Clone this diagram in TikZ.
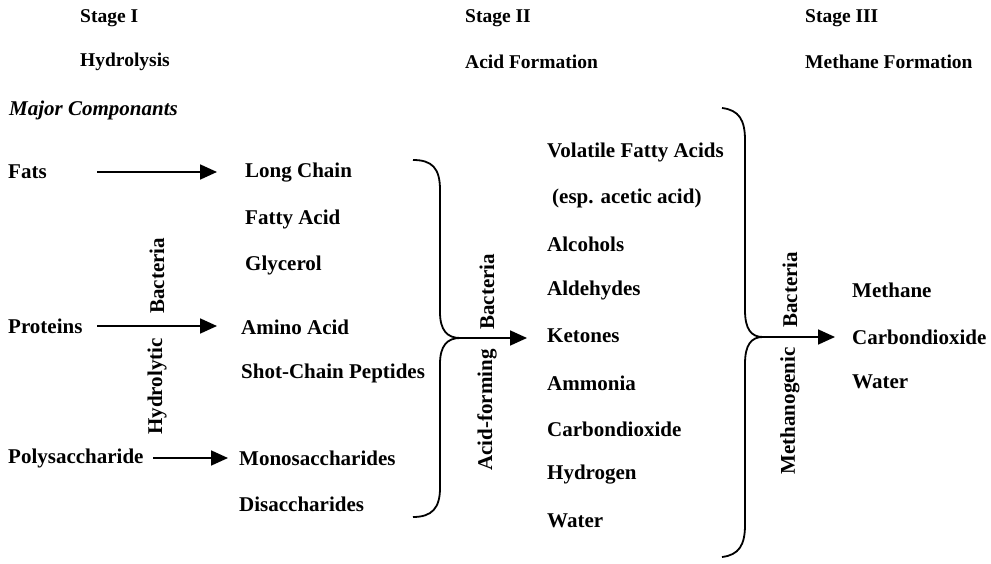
\documentclass[tikz,border=0pt]{standalone}
\usepackage{fontspec}
\setmainfont{Liberation Serif}
\usetikzlibrary{arrows.meta}
\begin{document}
\begin{tikzpicture}[x=1pt,y=-1pt,
  txt/.style={anchor=west,inner sep=0pt,font=\fontsize{21}{24}\selectfont\bfseries},
  hdr/.style={anchor=west,inner sep=0pt,font=\fontsize{19.5}{22}\selectfont\bfseries},
  vtxt/.style={inner sep=0pt,rotate=90,font=\fontsize{21}{24}\selectfont\bfseries},
  flow/.style={line width=1.8pt,-{Triangle[length=17pt,width=15pt]}},
  bracel/.style={line width=1.8pt}]
\useasboundingbox (0,0) rectangle (991,564);
% headers
\node[hdr] (s1) at (80,18) {Stage I};
\node[hdr] (h1) at (80,62) {Hydrolysis};
\node[hdr] (s2) at (465,18) {Stage II};
\node[hdr] (h2) at (465,62) {Acid Formation};
\node[hdr] (s3) at (805,18) {Stage III};
\node[hdr] (h3) at (805,62) {Methane Formation};
\node[txt,font=\fontsize{21}{24}\selectfont\bfseries\itshape] (mc) at (9,110) {Major Componants};
% stage I inputs
\node[txt] (fats) at (8,172) {Fats};
\node[txt] (prot) at (8,326) {Proteins};
\node[txt] (poly) at (8,458) {Polysaccharide};
\coordinate (fa1) at (97,172);
\coordinate (fa2) at (217,172);
\coordinate (pa1) at (97,326);
\coordinate (pa2) at (217,326);
\coordinate (ya1) at (153,458);
\coordinate (ya2) at (228,458);
\draw[flow] (fa1) -- (fa2);
\draw[flow] (pa1) -- (pa2);
\draw[flow] (ya1) -- (ya2);
\node[vtxt,anchor=west] (hb) at (157,314) {Bacteria};
\node[vtxt,anchor=east] (hh) at (157,338) {Hydrolytic};
% stage I products
\node[txt] (lc) at (245,173) {Long Chain};
\node[txt] (fa) at (245,219) {Fatty Acid};
\node[txt] (gl) at (245,265) {Glycerol};
\node[txt] (aa) at (241,327) {Amino Acid};
\node[txt] (sc) at (241,373) {Shot-Chain Peptides};
\node[txt] (ms) at (239,458) {Monosaccharides};
\node[txt] (ds) at (239,504) {Disaccharides};
% brace 1
\coordinate (b1t) at (413,160);
\coordinate (b1m) at (460,338);
\coordinate (b1b) at (413,517);
\draw[bracel] (b1t) .. controls (432,160) and (440,168) .. (440,190) -- (440,312)
  .. controls (440,330) and (447,338) .. (b1m)
  .. controls (447,338) and (440,346) .. (440,364) -- (440,488)
  .. controls (440,508) and (432,517) .. (b1b);
\coordinate (a1e) at (527,338);
\draw[flow] (b1m) -- (a1e);
\node[vtxt,anchor=west] (ab) at (487,330) {Bacteria};
\node[vtxt,anchor=east] (af) at (487,349) {Acid-forming};
% stage II products
\node[txt] (v1) at (547,152) {Volatile Fatty Acids};
\node[txt] (v2) at (552,198) {(esp. acetic acid)};
\node[txt] (v3) at (547,244) {Alcohols};
\node[txt] (v4) at (547,290) {Aldehydes};
\node[txt] (v5) at (547,336) {Ketones};
\node[txt] (v6) at (547,383) {Ammonia};
\node[txt] (v7) at (547,429) {Carbondioxide};
\node[txt] (v8) at (547,475) {Hydrogen};
\node[txt] (v9) at (547,521) {Water};
% brace 2
\coordinate (b2t) at (722,108);
\coordinate (b2m) at (763,337);
\coordinate (b2b) at (722,557);
\draw[bracel] (b2t) .. controls (739,110) and (745,120) .. (745,140) -- (745,310)
  .. controls (745,329) and (751,337) .. (b2m)
  .. controls (751,337) and (745,345) .. (745,364) -- (745,525)
  .. controls (745,545) and (739,555) .. (b2b);
\coordinate (a2e) at (835,337);
\draw[flow] (b2m) -- (a2e);
\node[vtxt,anchor=west] (mb) at (790,328) {Bacteria};
\node[vtxt,anchor=east] (mm) at (790,347) {Methanogenic};
% stage III products
\node[txt] (m1) at (852,290) {Methane};
\node[txt] (m2) at (852,337) {Carbondioxide};
\node[txt] (m3) at (852,382) {Water};
\end{tikzpicture}
\end{document}
